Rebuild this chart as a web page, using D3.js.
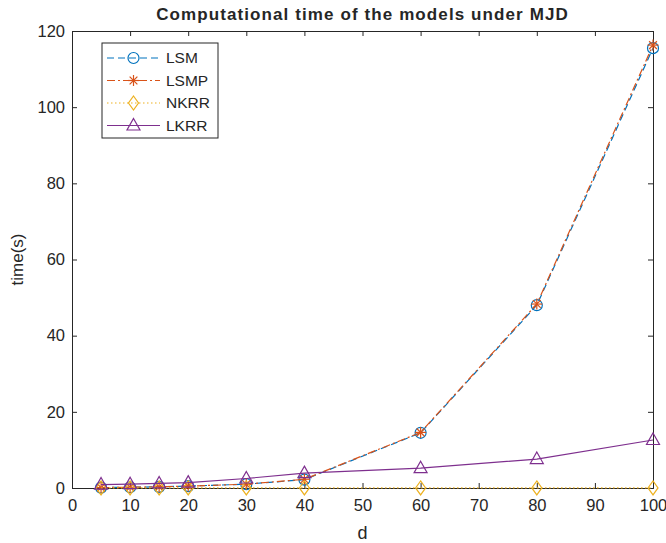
<!DOCTYPE html>
<html>
<head>
<meta charset="utf-8">
<script src="https://cdn.jsdelivr.net/npm/d3@7"></script>
<style>
  body { margin: 0; background: #fff; }
  text { font-family: "Liberation Sans", Arial, sans-serif; fill: #262626; }
</style>
</head>
<body>
<div id="chart"></div>
<script>
// data
const dims = [5, 10, 15, 20, 30, 40, 60, 80, 100];
const lsm = [0.1, 0.2, 0.3, 0.5, 1.0, 2.2, 14.5, 48.0, 115.5];
const lsmp = [0.1, 0.2, 0.3, 0.5, 1.0, 2.3, 14.6, 48.3, 116.3];
const nkrr = [0.02, 0.02, 0.02, 0.02, 0.02, 0.02, 0.02, 0.02, 0.02];
const lkrr = [0.9, 1.0, 1.2, 1.4, 2.5, 3.9, 5.2, 7.6, 12.6];
const xTicks = [0, 10, 20, 30, 40, 50, 60, 70, 80, 90, 100];
const yTicks = [0, 20, 40, 60, 80, 100, 120];

const series = [
  { name: "LSM", values: lsm, color: "#0072BD", dash: "7,4", marker: "circle" },
  { name: "LSMP", values: lsmp, color: "#D95319", dash: "8,3,2,3", marker: "star" },
  { name: "NKRR", values: nkrr, color: "#EDB120", dash: "1.5,2.5", marker: "diamond" },
  { name: "LKRR", values: lkrr, color: "#7E2F8E", dash: null, marker: "triangle" }
];

const W = 666, H = 543;
const m = { left: 72, right: 13, top: 31, bottom: 55 };
const svg = d3.select("#chart").append("svg").attr("width", W).attr("height", H);

const x = d3.scaleLinear().domain([0, 100]).range([m.left, W - m.right]);
const y = d3.scaleLinear().domain([0, 120]).range([H - m.bottom, m.top]);

// axes
const axisColor = "#262626";
const gBottom = svg.append("g").attr("transform", `translate(0,${H - m.bottom})`)
  .call(d3.axisBottom(x).tickValues(xTicks).tickSize(-5).tickPadding(13));
const gTop = svg.append("g").attr("transform", `translate(0,${m.top})`)
  .call(d3.axisTop(x).tickValues(xTicks).tickSize(-5).tickFormat(""));
const gLeft = svg.append("g").attr("transform", `translate(${m.left},0)`)
  .call(d3.axisLeft(y).tickValues(yTicks).tickSize(-5).tickPadding(7));
const gRight = svg.append("g").attr("transform", `translate(${W - m.right},0)`)
  .call(d3.axisRight(y).tickValues(yTicks).tickSize(-5).tickFormat(""));
[gBottom, gTop, gLeft, gRight].forEach(g => {
  g.select(".domain").attr("stroke", axisColor);
  g.selectAll(".tick line").attr("stroke", axisColor);
  g.selectAll("text").style("font-size", "16.5px").attr("fill", "#333");
});
gBottom.selectAll(".tick text").attr("dy", "0.6em");

// lines
const line = d3.line().x((d, i) => x(dims[i])).y(d => y(d));

function drawMarker(g, type, cx, cy, color) {
  if (type === "circle") {
    g.append("circle").attr("cx", cx).attr("cy", cy).attr("r", 5.5)
      .attr("fill", "none").attr("stroke", color).attr("stroke-width", 1.2);
  } else if (type === "star") {
    const r = 5.5;
    [0, 45, 90, 135].forEach(a => {
      const rad = a * Math.PI / 180;
      g.append("line")
        .attr("x1", cx - r * Math.cos(rad)).attr("y1", cy - r * Math.sin(rad))
        .attr("x2", cx + r * Math.cos(rad)).attr("y2", cy + r * Math.sin(rad))
        .attr("stroke", color).attr("stroke-width", 1.2);
    });
  } else if (type === "diamond") {
    g.append("path").attr("d", `M${cx},${cy - 7}L${cx + 5},${cy}L${cx},${cy + 7}L${cx - 5},${cy}Z`)
      .attr("fill", "none").attr("stroke", color).attr("stroke-width", 1.2);
  } else if (type === "triangle") {
    g.append("path").attr("d", `M${cx},${cy - 7}L${cx + 6.5},${cy + 4.5}L${cx - 6.5},${cy + 4.5}Z`)
      .attr("fill", "none").attr("stroke", color).attr("stroke-width", 1.2);
  }
}

series.forEach(s => {
  svg.append("path").datum(s.values)
    .attr("d", line)
    .attr("fill", "none")
    .attr("stroke", s.color)
    .attr("stroke-width", 1.2)
    .attr("stroke-dasharray", s.dash);
  const g = svg.append("g");
  s.values.forEach((v, i) => drawMarker(g, s.marker, x(dims[i]), y(v), s.color));
});

// title and labels
svg.append("text").attr("x", (m.left + W - m.right) / 2).attr("y", 20)
  .attr("text-anchor", "middle").style("font-size", "17px").style("font-weight", "bold")
  .style("letter-spacing", "1.1px")
  .attr("fill", "#000").text("Computational time of the models under MJD");
svg.append("text").attr("x", (m.left + W - m.right) / 2).attr("y", 539)
  .attr("text-anchor", "middle").style("font-size", "18px").text("d");
svg.append("text").attr("transform", `translate(23,${(m.top + H - m.bottom) / 2}) rotate(-90)`)
  .attr("text-anchor", "middle").style("font-size", "17px").text("time(s)");

// legend
const lg = svg.append("g").attr("transform", "translate(102,43)");
lg.append("rect").attr("width", 116).attr("height", 95)
  .attr("fill", "#fff").attr("stroke", axisColor).attr("stroke-width", 1);
series.forEach((s, i) => {
  const ly = 15 + i * 22.5;
  lg.append("line").attr("x1", 5).attr("x2", 58).attr("y1", ly).attr("y2", ly)
    .attr("stroke", s.color).attr("stroke-width", 1.2).attr("stroke-dasharray", s.dash);
  drawMarker(lg, s.marker, 31.5, ly, s.color);
  lg.append("text").attr("x", 64).attr("y", ly).attr("dy", "0.35em")
    .style("font-size", "15.5px").attr("fill", "#000").text(s.name);
});
</script>
</body>
</html>
